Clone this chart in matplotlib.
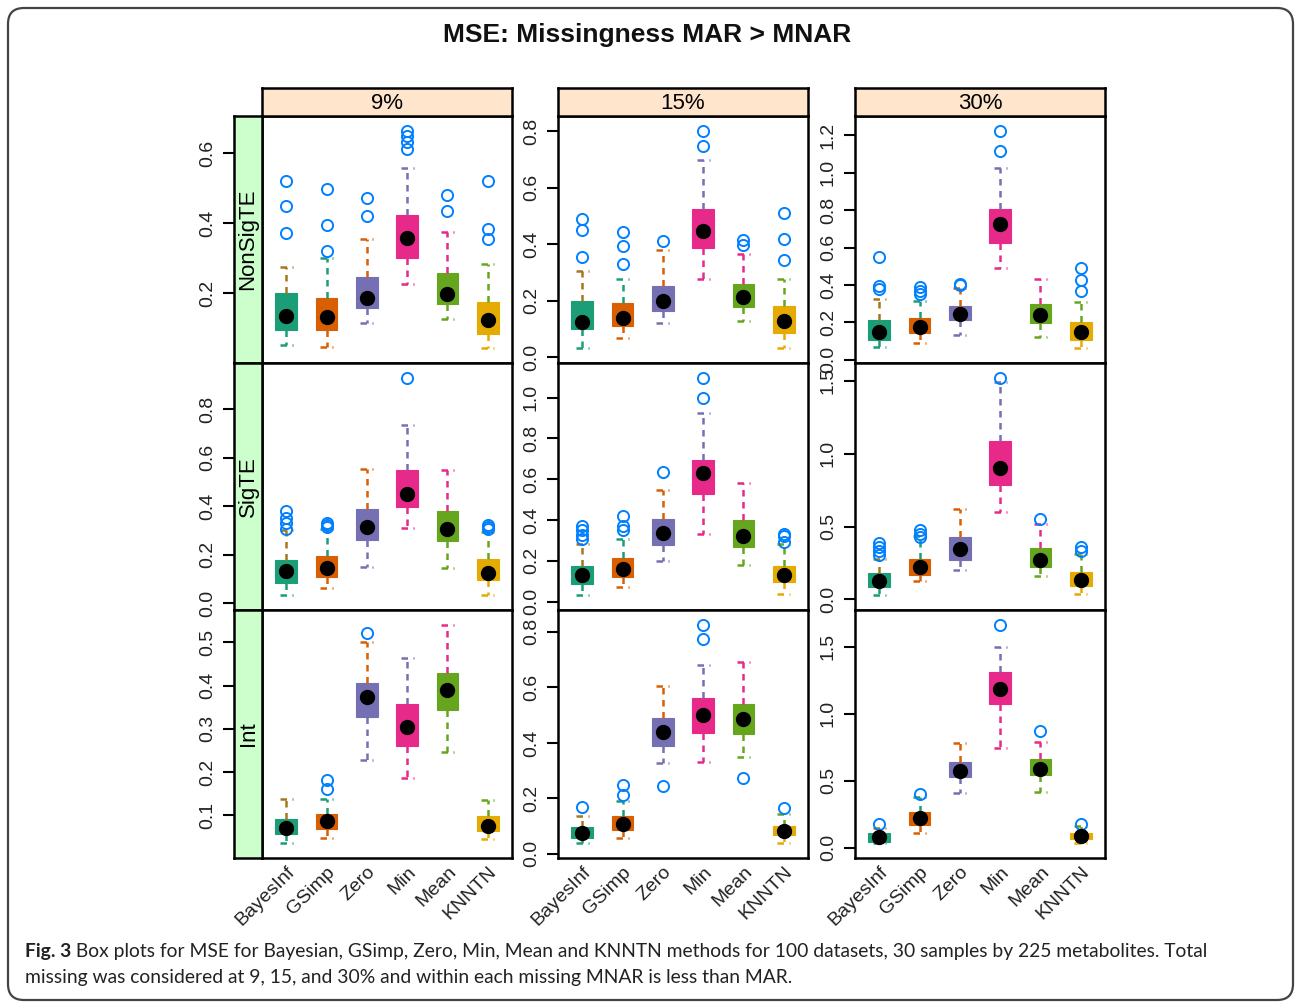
#!/usr/bin/env python3

import matplotlib
matplotlib.use("Agg")
import matplotlib.pyplot as plt
from matplotlib.patches import FancyBboxPatch
from matplotlib.ticker import MultipleLocator
from matplotlib.transforms import IdentityTransform

methods = ["BayesInf", "GSimp", "Zero", "Min", "Mean", "KNNTN"]
levels = ["9%", "15%", "30%"]
groups = ["NonSigTE", "SigTE", "Int"]

# per method: (lower whisker, Q1, median, Q3, upper whisker)
nonsig_9 = [(0.052, 0.096, 0.137, 0.201, 0.276), (0.048, 0.096, 0.133, 0.186, 0.301),
            (0.115, 0.159, 0.186, 0.246, 0.354), (0.228, 0.301, 0.358, 0.422, 0.556),
            (0.127, 0.169, 0.199, 0.257, 0.376), (0.045, 0.083, 0.125, 0.175, 0.284)]
nonsig_9_out = [[0.371, 0.450, 0.519], [0.320, 0.396, 0.496], [0.421, 0.472],
                [0.610, 0.630, 0.647, 0.662], [0.434, 0.479], [0.354, 0.384, 0.519]]

nonsig_15 = [(0.035, 0.101, 0.127, 0.199, 0.304), (0.068, 0.111, 0.141, 0.193, 0.277),
             (0.122, 0.164, 0.201, 0.253, 0.380), (0.276, 0.387, 0.447, 0.525, 0.698),
             (0.129, 0.177, 0.214, 0.260, 0.366), (0.034, 0.088, 0.129, 0.181, 0.279)]
nonsig_15_out = [[0.355, 0.452, 0.488], [0.330, 0.393, 0.442], [0.411],
                 [0.748, 0.800], [0.399, 0.414], [0.346, 0.420, 0.511]]

nonsig_30 = [(0.070, 0.104, 0.150, 0.214, 0.325), (0.088, 0.142, 0.174, 0.222, 0.315),
             (0.134, 0.213, 0.247, 0.288, 0.386), (0.493, 0.624, 0.729, 0.804, 1.024),
             (0.122, 0.197, 0.241, 0.299, 0.431), (0.064, 0.107, 0.147, 0.200, 0.309)]
nonsig_30_out = [[0.377, 0.397, 0.549], [0.354, 0.368, 0.391], [0.399, 0.406],
                 [1.115, 1.223], [], [0.367, 0.427, 0.493]]

sig_9 = [(0.034, 0.082, 0.132, 0.177, 0.302), (0.062, 0.108, 0.145, 0.195, 0.306),
         (0.149, 0.258, 0.315, 0.388, 0.553), (0.309, 0.398, 0.450, 0.547, 0.734),
         (0.145, 0.256, 0.306, 0.380, 0.550), (0.034, 0.094, 0.123, 0.180, 0.291)]
sig_9_out = [[0.306, 0.330, 0.350, 0.379], [0.312, 0.320, 0.332], [],
             [0.927], [], [0.305, 0.315, 0.323]]

sig_15 = [(0.034, 0.086, 0.130, 0.173, 0.285), (0.071, 0.119, 0.161, 0.215, 0.305),
          (0.199, 0.277, 0.339, 0.407, 0.549), (0.332, 0.529, 0.630, 0.695, 0.924),
          (0.181, 0.267, 0.321, 0.401, 0.582), (0.036, 0.096, 0.129, 0.174, 0.283)]
sig_15_out = [[0.305, 0.329, 0.353, 0.370], [0.353, 0.370, 0.420], [0.637],
              [1.000, 1.095], [], [0.291, 0.321, 0.334]]

sig_30 = [(0.032, 0.089, 0.128, 0.183, 0.279), (0.130, 0.169, 0.221, 0.281, 0.434),
          (0.201, 0.269, 0.345, 0.427, 0.623), (0.598, 0.783, 0.902, 1.084, 1.493),
          (0.160, 0.224, 0.272, 0.352, 0.516), (0.039, 0.091, 0.137, 0.192, 0.315)]
sig_30_out = [[0.308, 0.330, 0.360, 0.388], [0.429, 0.452, 0.475], [],
              [1.518], [0.555], [0.331, 0.358]]

int_9 = [(0.036, 0.057, 0.071, 0.090, 0.137), (0.046, 0.068, 0.086, 0.102, 0.138),
         (0.228, 0.328, 0.374, 0.405, 0.500), (0.185, 0.261, 0.304, 0.357, 0.465),
         (0.247, 0.343, 0.391, 0.430, 0.540), (0.044, 0.063, 0.074, 0.097, 0.135)]
int_9_out = [[], [0.160, 0.181], [0.522], [], [], []]

int_15 = [(0.040, 0.058, 0.076, 0.096, 0.138), (0.058, 0.087, 0.106, 0.135, 0.189),
          (0.327, 0.389, 0.441, 0.489, 0.606), (0.331, 0.435, 0.501, 0.562, 0.680),
          (0.348, 0.433, 0.487, 0.540, 0.691), (0.040, 0.067, 0.082, 0.101, 0.145)]
int_15_out = [[0.169], [0.212, 0.250], [0.244], [0.774, 0.824], [0.272], [0.165]]

int_30 = [(0.037, 0.045, 0.077, 0.109, 0.150), (0.112, 0.169, 0.219, 0.269, 0.379),
          (0.406, 0.531, 0.571, 0.636, 0.781), (0.743, 1.075, 1.187, 1.310, 1.494),
          (0.416, 0.541, 0.584, 0.661, 0.790), (0.037, 0.062, 0.085, 0.112, 0.162)]
int_30_out = [[0.174], [0.399], [], [1.659], [0.868], [0.174]]

panels = [
    [(nonsig_9, nonsig_9_out), (nonsig_15, nonsig_15_out), (nonsig_30, nonsig_30_out)],
    [(sig_9, sig_9_out), (sig_15, sig_15_out), (sig_30, sig_30_out)],
    [(int_9, int_9_out), (int_15, int_15_out), (int_30, int_30_out)],
]
tick_steps = [[0.2, 0.2, 0.2], [0.2, 0.2, 0.5], [0.1, 0.2, 0.5]]

caption_head = "Fig. 3"
caption_line1 = (" Box plots for MSE for Bayesian, GSimp, Zero, Min, Mean and KNNTN methods for "
                 "100 datasets, 30 samples by 225 metabolites. Total")
caption_line2 = ("missing was considered at 9, 15, and 30% and within each missing MNAR is "
                 "less than MAR.")

box_colors = ["#1B9E77", "#D95F02", "#7570B3", "#E7298A", "#66A61E", "#E6AB02"]
upper_colors = ["#A6761D"] + box_colors[:-1]
outlier_color = "#0080FF"
dash = (0, (2.6, 2.2))
text_color = "#222222"

W, H = 1295, 1002
col_x = [(262, 512), (558, 808), (855, 1105)]
row_y = [(116, 363), (363, 610), (610, 858)]
strip_top = (88, 116)
strip_left = (234, 262)

plt.rcParams["font.family"] = ["Liberation Sans", "DejaVu Sans"]
fig = plt.figure(figsize=(W / 100, H / 100), dpi=100)


def px_axes(x0, x1, y0, y1):
    return fig.add_axes([x0 / W, 1 - y1 / H, (x1 - x0) / W, (y1 - y0) / H])


def style_frame(ax):
    for s in ax.spines.values():
        s.set_linewidth(1.8)
        s.set_color("black")


def y_ticks(ax, step):
    ax.yaxis.set_major_locator(MultipleLocator(step))
    ax.tick_params(axis="y", length=8, width=1.5, pad=5, labelsize=14,
                   labelrotation=90, labelcolor=text_color)
    for lab in ax.get_yticklabels():
        lab.set_verticalalignment("center")


def draw_panel(ax, stats, outliers):
    positions = list(range(1, len(methods) + 1))
    bxp_stats = []
    for (lo, q1, med, q3, hi), out in zip(stats, outliers):
        bxp_stats.append(dict(whislo=lo, q1=q1, med=med, q3=q3, whishi=hi, fliers=out))
    art = ax.bxp(bxp_stats, positions=positions, widths=0.54, capwidths=0.32,
                 patch_artist=True, showfliers=True, manage_ticks=False)
    for i, box in enumerate(art["boxes"]):
        box.set_facecolor(box_colors[i])
        box.set_edgecolor(box_colors[i])
        box.set_linewidth(0.8)
        # whiskers and caps come in (lower, upper) pairs
        for part in ("whiskers", "caps"):
            lower, upper = art[part][2 * i], art[part][2 * i + 1]
            for line, c in ((lower, box_colors[i]), (upper, upper_colors[i])):
                line.set_color(c)
                line.set_linewidth(1.8)
                line.set_linestyle(dash)
    for m in art["medians"]:
        m.set_visible(False)
    for f in art["fliers"]:
        f.set_marker("o")
        f.set_markerfacecolor("none")
        f.set_markeredgecolor(outlier_color)
        f.set_markeredgewidth(1.4)
        f.set_markersize(8)
    ax.plot(positions, [s[2] for s in stats], "o", color="black", markersize=10, zorder=5)

    # lattice-style range: data extent padded by 7% on each side
    vals = [v for s in stats for v in (s[0], s[4])] + [v for o in outliers for v in o]
    lo, hi = min(vals), max(vals)
    pad = 0.07 * (hi - lo)
    ax.set_ylim(lo - pad, hi + pad)
    ax.set_xlim(0.4, len(methods) + 0.6)
    ax.set_xticks(positions)


for r, group in enumerate(groups):
    y0, y1 = row_y[r]
    for c, level in enumerate(levels):
        x0, x1 = col_x[c]
        ax = px_axes(x0, x1, y0, y1)
        stats, outliers = panels[r][c]
        draw_panel(ax, stats, outliers)
        style_frame(ax)
        ax.tick_params(axis="x", length=0, labelsize=14, labelcolor=text_color, pad=4)
        if r == len(groups) - 1:
            ax.set_xticklabels(methods, rotation=45, ha="right", va="top",
                               rotation_mode="anchor")
        else:
            ax.set_xticklabels([])

        if c == 0:
            # group strip sits between the tick marks and the panel
            ax.tick_params(axis="y", left=False, labelleft=False)
            sax = px_axes(strip_left[0], strip_left[1], y0, y1)
            sax.set_facecolor("#CCFFCC")
            sax.set_ylim(ax.get_ylim())
            sax.set_xticks([])
            y_ticks(sax, tick_steps[r][c])
            style_frame(sax)
            sax.text(0.5, 0.5, group, transform=sax.transAxes, rotation=90,
                     ha="center", va="center", fontsize=16, color="black")
        else:
            y_ticks(ax, tick_steps[r][c])

        if r == 0:
            tax = px_axes(x0, x1, strip_top[0], strip_top[1])
            tax.set_facecolor("#FFE5CC")
            tax.set_xticks([])
            tax.set_yticks([])
            style_frame(tax)
            tax.text(0.5, 0.45, level, transform=tax.transAxes, ha="center",
                     va="center", fontsize=16, color="black")

fig.text(647 / W, 1 - 35 / H, "MSE: Missingness MAR > MNAR", ha="center", va="center",
         fontsize=19, fontweight="bold", color="#111111")

# rounded outer frame, in pixel coordinates
frame = FancyBboxPatch((8, 2), 1285, 992, boxstyle="round,pad=0,rounding_size=16",
                       transform=IdentityTransform(), facecolor="none",
                       edgecolor="#444444", linewidth=1.6)
fig.patches.append(frame)

# caption: bold figure number followed by plain text, sized to the caption width
cap_font = ["Lato", "DejaVu Sans"]
cap_left, cap_right = 25, 1215
renderer = fig.canvas.get_renderer()
head = fig.text(cap_left / W, 1 - 952 / H, caption_head, ha="left", va="center",
                fontsize=14, fontweight="bold", family=cap_font, color=text_color)
body = fig.text(0, 1 - 952 / H, caption_line1, ha="left", va="center",
                fontsize=14, family=cap_font, color=text_color)
line2 = fig.text(cap_left / W, 1 - 978 / H, caption_line2, ha="left", va="center",
                 fontsize=14, family=cap_font, color=text_color)
full_w = head.get_window_extent(renderer).width + body.get_window_extent(renderer).width
size = 14 * (cap_right - cap_left) / full_w
for t in (head, body, line2):
    t.set_fontsize(size)
head_w = head.get_window_extent(renderer).width
body.set_x((cap_left + head_w) / W)

fig.savefig("out.png", dpi=100)
